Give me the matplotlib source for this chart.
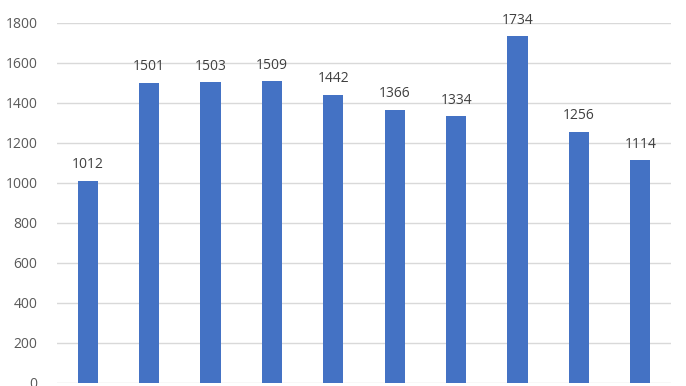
import matplotlib
import matplotlib.pyplot as plt
import numpy as np

matplotlib.rcParams['font.family'] = ['Open Sans', 'DejaVu Sans']

values = [1012, 1501, 1503, 1509, 1442, 1366, 1334, 1734, 1256, 1114]
yticks = [0, 200, 400, 600, 800, 1000, 1200, 1400, 1600, 1800]

fig = plt.figure(figsize=(6.86, 3.86), dpi=100)
ax = fig.add_axes([57 / 686, 3 / 386, 614 / 686, 360 / 386])

x = np.arange(len(values))
bars = ax.bar(x, values, width=0.33, color='#4472C4', zorder=3)
ax.bar_label(bars, labels=[str(v) for v in values], padding=6, fontsize=10, color='#404040')

ax.set_xlim(-0.5, len(values) - 0.5)
ax.set_ylim(0, 1800)
ax.set_yticks(yticks)
ax.set_xticks([])
ax.tick_params(axis='y', length=0, pad=14, labelsize=10, labelcolor='#595959')
ax.grid(axis='y', color='#d9d9d9', linewidth=1, zorder=0)
for s in ax.spines.values():
    s.set_visible(False)

fig.savefig('out.png', dpi=100)
